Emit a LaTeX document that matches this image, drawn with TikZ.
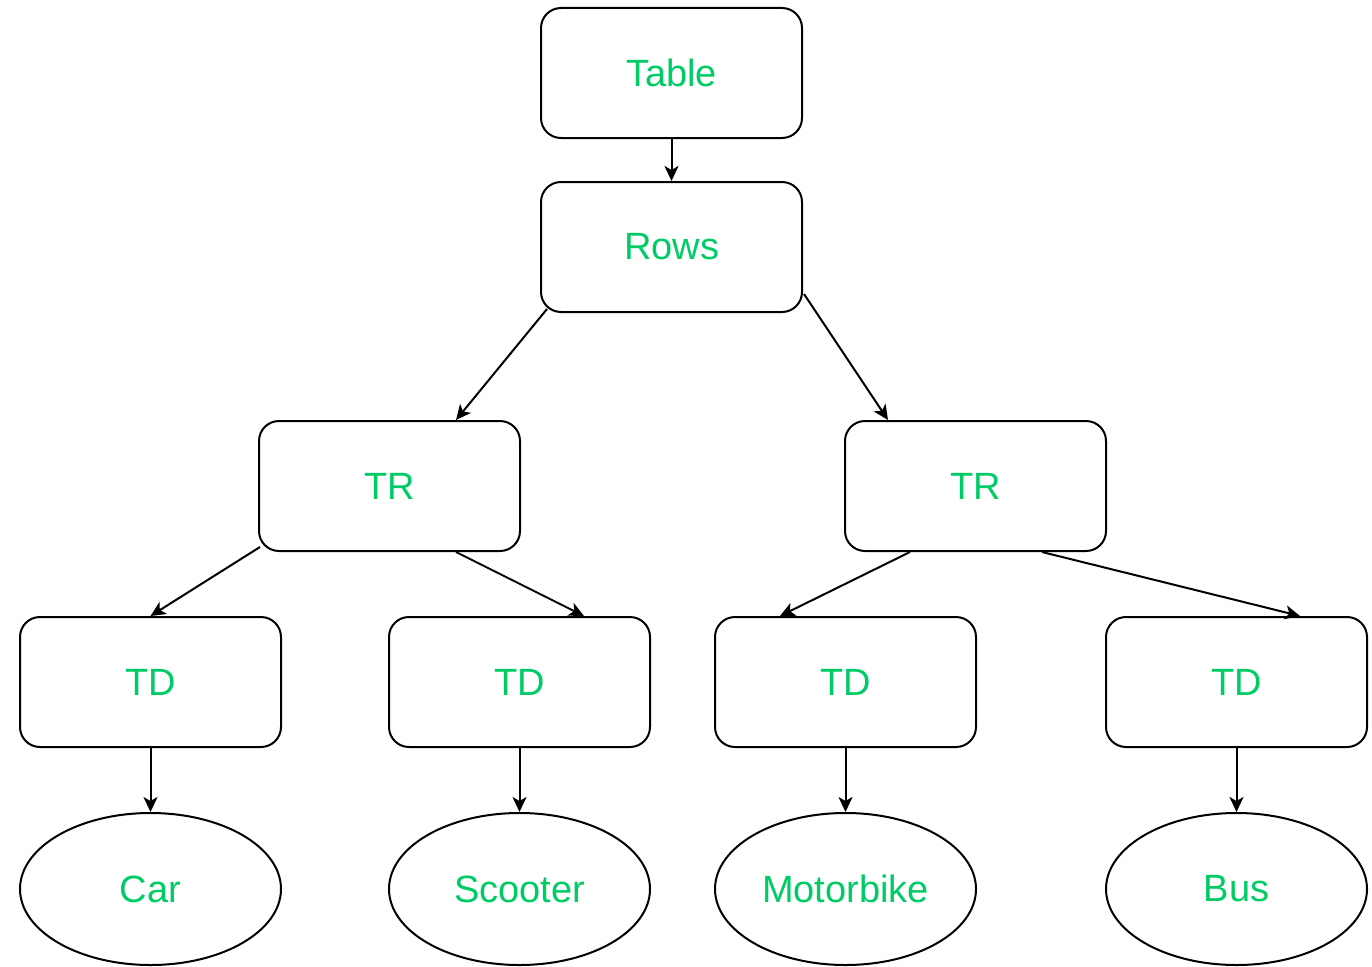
\documentclass[tikz,border=0pt]{standalone}
\usepackage{fontspec}
\setmainfont{Liberation Sans}
\usetikzlibrary{arrows.meta,shapes.geometric}
\definecolor{labelgreen}{HTML}{00CC66}
\begin{document}
\begin{tikzpicture}[x=1pt,y=-1pt,
  every node/.style={text=labelgreen,font=\fontsize{38}{46}\selectfont},
  box/.style={draw,line width=2pt,rounded corners=20pt,minimum width=261pt,minimum height=130pt,inner sep=0pt},
  leaf/.style={draw,ellipse,line width=2pt,minimum width=261pt,minimum height=152pt,inner sep=0pt},
  link/.style={line width=2pt,-{Stealth[length=15pt,width=14pt,inset=4pt]}}]
  \useasboundingbox (0,0) rectangle (1372,966);

  % tree nodes
  \node[box] (table) at (671.5,73) {Table};
  \node[box] (rows) at (671.5,247) {Rows};
  \node[box] (trl) at (389.5,486) {TR};
  \node[box] (trr) at (975.5,486) {TR};
  \node[box] (td1) at (150.5,682) {TD};
  \node[box] (td2) at (519.5,682) {TD};
  \node[box] (td3) at (845.5,682) {TD};
  \node[box] (td4) at (1236.5,682) {TD};
  \node[leaf] (car) at (150.5,889) {Car};
  \node[leaf] (scooter) at (519.5,889) {Scooter};
  \node[leaf] (motorbike) at (845.5,889) {Motorbike};
  \node[leaf] (bus) at (1236.5,889) {Bus};

  % connectors
  \draw[link] (table.south) -- (rows.north);
  \draw[link] ([shift={(7,-4)}]rows.south west) -- ([xshift=66.5pt]trl.north);
  \draw[link] ([shift={(1,-19)}]rows.south east) -- ([xshift=-87.5pt]trr.north);
  \draw[link] ([shift={(2,-5)}]trl.south west) -- (td1.north);
  \draw[link] ([xshift=66.5pt]trl.south) -- ([xshift=64.5pt]td2.north);
  \draw[link] ([xshift=-65.5pt]trr.south) -- ([xshift=-65.5pt]td3.north);
  \draw[link] ([xshift=66.5pt]trr.south) -- ([xshift=63.5pt]td4.north);
  \draw[link] (td1.south) -- (car.north);
  \draw[link] (td2.south) -- (scooter.north);
  \draw[link] (td3.south) -- (motorbike.north);
  \draw[link] (td4.south) -- (bus.north);
\end{tikzpicture}
\end{document}
